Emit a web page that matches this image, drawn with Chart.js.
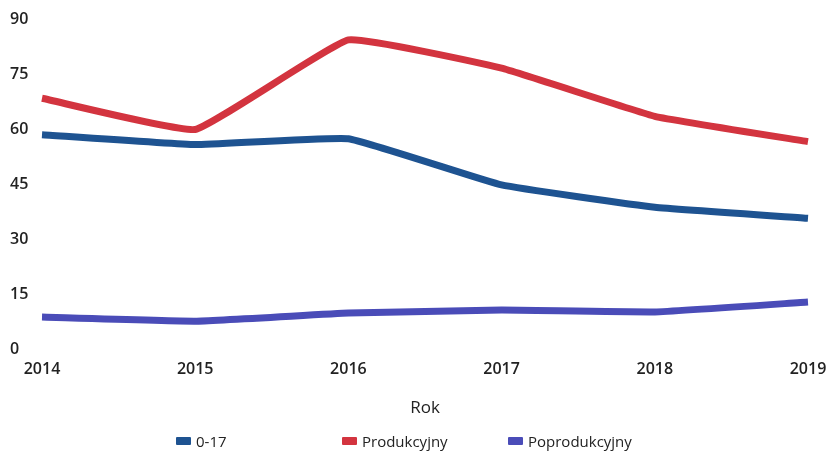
<!DOCTYPE html>
<html>
<head>
<meta charset="utf-8">
<script src="https://cdn.jsdelivr.net/npm/chart.js@4/dist/chart.umd.min.js"></script>
<style>
  html, body { margin: 0; padding: 0; background: #fff; }
  #wrap { position: relative; width: 830px; height: 457px; }
  #c { display: block; }
  #legend { position: absolute; left: 0; top: 431px; width: 850px; display: flex; justify-content: center;
            font-family: "Open Sans", sans-serif; font-size: 15px; color: #222; }
  #legend .item { width: 166px; display: flex; align-items: center; }
  #legend .box { width: 15px; height: 8px; margin-right: 5px; border-radius: 1px; }
</style>
</head>
<body>
<div id="wrap">
  <canvas id="c" width="830" height="457"></canvas>
  <div id="legend"></div>
</div>
<script>
const years = ["2014", "2015", "2016", "2017", "2018", "2019"];
const seriesNames = ["0-17", "Produkcyjny", "Poprodukcyjny"];
const kids = [58.5, 55.8, 57.4, 44.8, 38.7, 35.7];
const working = [68.4, 59.9, 84.3, 76.6, 63.5, 56.6];
const retired = [8.8, 7.7, 9.9, 10.7, 10.2, 12.9];
const yTicks = [0, 15, 30, 45, 60, 75, 90];
const colors = ["#1e5391", "#d3343f", "#4a4cb8"];

const values = [kids, working, retired];
const datasets = seriesNames.map((name, i) => ({
  label: name,
  data: values[i],
  borderColor: colors[i],
  backgroundColor: colors[i],
  borderWidth: 7,
  pointRadius: 0,
  tension: 0.1,
  borderCapStyle: 'butt',
  borderJoinStyle: 'round',
  fill: false
}));

const chart = new Chart(document.getElementById('c'), {
  type: 'line',
  data: { labels: years, datasets },
  options: {
    responsive: false,
    animation: false,
    layout: { padding: { left: 10, right: 22, top: 19, bottom: 39 } },
    plugins: { legend: { display: false }, tooltip: { enabled: false } },
    scales: {
      x: {
        offset: false,
        grid: { display: false },
        border: { display: false },
        ticks: { color: '#222', padding: 2, maxRotation: 0,
                 font: { family: 'Open Sans', size: 16, weight: '600' } },
        title: { display: true, text: 'Rok', color: '#222', padding: { top: 17, bottom: 0 },
                 font: { family: 'Open Sans', size: 17 } }
      },
      y: {
        min: 0, max: 90,
        afterBuildTicks: (axis) => { axis.ticks = yTicks.map(v => ({ value: v })); },
        afterFit: (axis) => { axis.width = 32; },
        grid: { display: false },
        border: { display: false },
        ticks: { color: '#222', crossAlign: 'far', padding: 4,
                 font: { family: 'Open Sans', size: 16, weight: '600' } }
      }
    }
  }
});

const legend = document.getElementById('legend');
chart.data.datasets.forEach(ds => {
  const item = document.createElement('div');
  item.className = 'item';
  const box = document.createElement('span');
  box.className = 'box';
  box.style.background = ds.borderColor;
  const txt = document.createElement('span');
  txt.textContent = ds.label;
  item.appendChild(box); item.appendChild(txt);
  legend.appendChild(item);
});
</script>
</body>
</html>
